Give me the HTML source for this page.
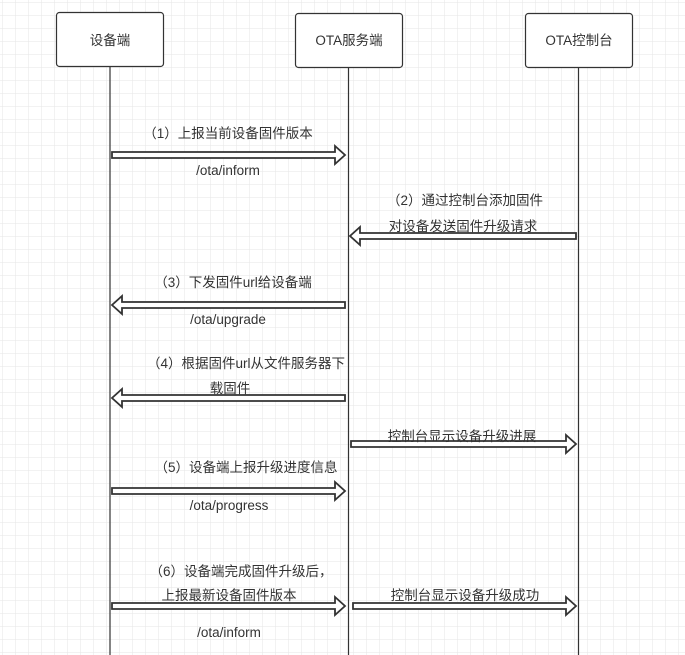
<!DOCTYPE html>
<html><head><meta charset="utf-8"><style>
html,body{margin:0;padding:0;background:#fff;}
svg{display:block;}
text{font-family:"Liberation Sans","Noto Sans CJK SC",sans-serif;font-size:13.5px;fill:#333;}
</style></head><body>
<svg width="685" height="655" viewBox="0 0 685 655" xmlns="http://www.w3.org/2000/svg">
<defs>
<pattern id="g" width="13" height="13" patternUnits="userSpaceOnUse" x="2" y="2">
<path d="M13 0 L0 0 0 13" fill="none" stroke="#e6e6e6" stroke-width="1"/>
</pattern>
</defs>
<rect width="685" height="655" fill="url(#g)"/>
<g stroke="#333" stroke-width="1.2" fill="#fff">
<rect x="56.5" y="12.5" width="107" height="54" rx="3"/>
<rect x="295.5" y="13.5" width="107" height="54" rx="3"/>
<rect x="525.5" y="13.5" width="107" height="54" rx="3"/>
</g>
<g stroke="#333" stroke-width="1.2">
<line x1="110" y1="67" x2="110" y2="655"/>
<line x1="348.5" y1="68" x2="348.5" y2="655"/>
<line x1="578.5" y1="68" x2="578.5" y2="655"/>
</g>
<text x="110" y="45" text-anchor="middle">设备端</text>
<text x="349" y="45" text-anchor="middle">OTA服务端</text>
<text x="579" y="45" text-anchor="middle">OTA控制台</text>
<g stroke="#333" stroke-width="1.8" fill="#fff" stroke-linejoin="miter">
<path d="M112,152 L335,152 L335,146 L345,155 L335,164 L335,158 L112,158Z"/>
<path d="M576,233 L360,233 L360,227 L350,236 L360,245 L360,239 L576,239Z"/>
<path d="M345,302 L122,302 L122,296 L112,305 L122,314 L122,308 L345,308Z"/>
<path d="M345,395 L122,395 L122,389 L112,398 L122,407 L122,401 L345,401Z"/>
<path d="M351,441 L566,441 L566,435 L576,444 L566,453 L566,447 L351,447Z"/>
<path d="M112,488 L335,488 L335,482 L345,491 L335,500 L335,494 L112,494Z"/>
<path d="M112,603 L335,603 L335,597 L345,606 L335,615 L335,609 L112,609Z"/>
<path d="M353,603 L566,603 L566,597 L576,606 L566,615 L566,609 L353,609Z"/>
</g>
<g text-anchor="middle">
<text x="228" y="138">（1）上报当前设备固件版本</text>
<text x="228" y="175">/ota/inform</text>
<text x="465" y="205">（2）通过控制台添加固件</text>
<text x="463" y="231">对设备发送固件升级请求</text>
<text x="233" y="287">（3）下发固件url给设备端</text>
<text x="228" y="324">/ota/upgrade</text>
<text x="246" y="368">（4）根据固件url从文件服务器下</text>
<text x="230" y="393">载固件</text>
<text x="462" y="441">控制台显示设备升级进展</text>
<text x="246" y="472">（5）设备端上报升级进度信息</text>
<text x="229" y="510">/ota/progress</text>
<text x="241" y="576">（6）设备端完成固件升级后，</text>
<text x="229" y="600">上报最新设备固件版本</text>
<text x="229" y="637">/ota/inform</text>
<text x="465" y="600">控制台显示设备升级成功</text>
</g>
</svg>
</body></html>
